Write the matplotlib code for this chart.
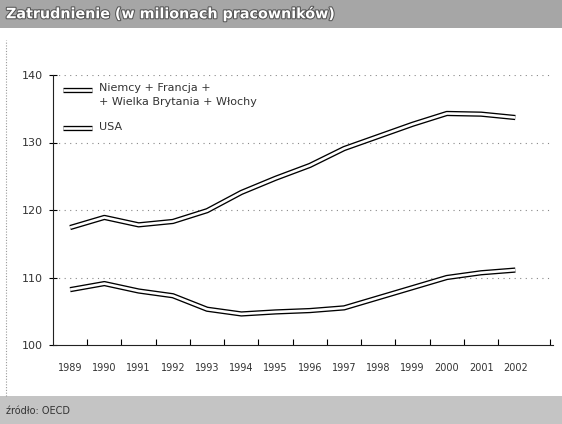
import matplotlib
matplotlib.use("Agg")
import matplotlib.pyplot as plt
from matplotlib.lines import Line2D
from matplotlib.patches import Rectangle
import matplotlib.patheffects as pe

years = [1989, 1990, 1991, 1992, 1993, 1994, 1995, 1996, 1997, 1998, 1999, 2000, 2001, 2002]
europe = [117.4, 118.9, 117.8, 118.3, 119.9, 122.6, 124.7, 126.6, 129.1, 130.9, 132.7, 134.3, 134.2, 133.7]
usa = [108.2, 109.1, 108.0, 107.3, 105.3, 104.6, 104.9, 105.1, 105.5, 107.0, 108.5, 110.0, 110.7, 111.1]
yticks = [100, 110, 120, 130, 140]
labels = ["Niemcy + Francja +\n+ Wielka Brytania + Włochy", "USA"]
title = "Zatrudnienie (w milionach pracowników)"
source = "źródło: OECD"

W, H = 562, 424
OUT_LW, IN_LW = 3.8, 1.9
fig = plt.figure(figsize=(W / 100, H / 100), dpi=100)
fig.patch.set_facecolor("white")


def fx(px):
    return px / W


def fy(py):
    return (H - py) / H


# header and footer bands
fig.add_artist(Rectangle((0, fy(28)), 1, 28 / H, transform=fig.transFigure,
                         facecolor="#a6a6a6", edgecolor="none", zorder=0))
fig.add_artist(Rectangle((0, 0), 1, 28 / H, transform=fig.transFigure,
                         facecolor="#c4c4c4", edgecolor="none", zorder=0))
fig.text(fx(6), fy(14), title, fontsize=10.3, fontweight="bold", color="white",
         va="center", ha="left",
         path_effects=[pe.withStroke(linewidth=1.5, foreground="#555555")])
fig.text(fx(6), fy(411), source, fontsize=7, color="#333333", va="center", ha="left")
fig.add_artist(Line2D([fx(6), fx(6)], [fy(396), fy(40)], transform=fig.transFigure,
                      color="#999999", lw=0.8, ls=(0, (1, 1.5))))

ax = fig.add_axes([fx(53), fy(345), (553 - 53) / W, (345 - 75) / H])
ax.set_xlim(1988.5, 2003.1)
ax.set_ylim(100, 140)

for y in yticks[1:]:
    ax.axhline(y, color="#888888", lw=0.8, ls=(0, (1, 4)), zorder=1)

for s in (europe, usa):
    ax.plot(years, s, color="black", lw=OUT_LW, solid_capstyle="butt", zorder=3)
    ax.plot(years, s, color="white", lw=IN_LW, solid_capstyle="butt", zorder=4)

for sp in ("top", "right"):
    ax.spines[sp].set_visible(False)
ax.spines["left"].set_color("#222222")
ax.spines["bottom"].set_color("#222222")

ax.set_yticks(yticks)
ax.set_yticklabels([str(v) for v in yticks], fontsize=8, color="#333333")
ax.tick_params(axis="y", direction="inout", length=6, width=0.8, pad=4)

ax.set_xticks([y + 0.5 for y in years[:-1]] + [2003.0])
ax.set_xticklabels([])
ax.tick_params(axis="x", direction="in", length=4, width=0.8)
ax.set_xticks(years, minor=True)
ax.set_xticklabels([str(y) for y in years], minor=True, fontsize=7, color="#333333")
ax.tick_params(axis="x", which="minor", length=0, pad=13)

# manual legend
for (hy, ty, lab) in ((90, 89, labels[0]), (128, 128, labels[1])):
    for c, lw in (("black", OUT_LW), ("white", IN_LW)):
        fig.add_artist(Line2D([fx(63), fx(92)], [fy(hy), fy(hy)], transform=fig.transFigure,
                              color=c, lw=lw, solid_capstyle="butt", zorder=5))
    fig.text(fx(99), fy(ty), lab, fontsize=8, color="#333333", va="baseline" if False else "top",
             ha="left", linespacing=1.45,
             transform=fig.transFigure).set_y(fy(ty - 6))

fig.savefig("out.png", dpi=100)
